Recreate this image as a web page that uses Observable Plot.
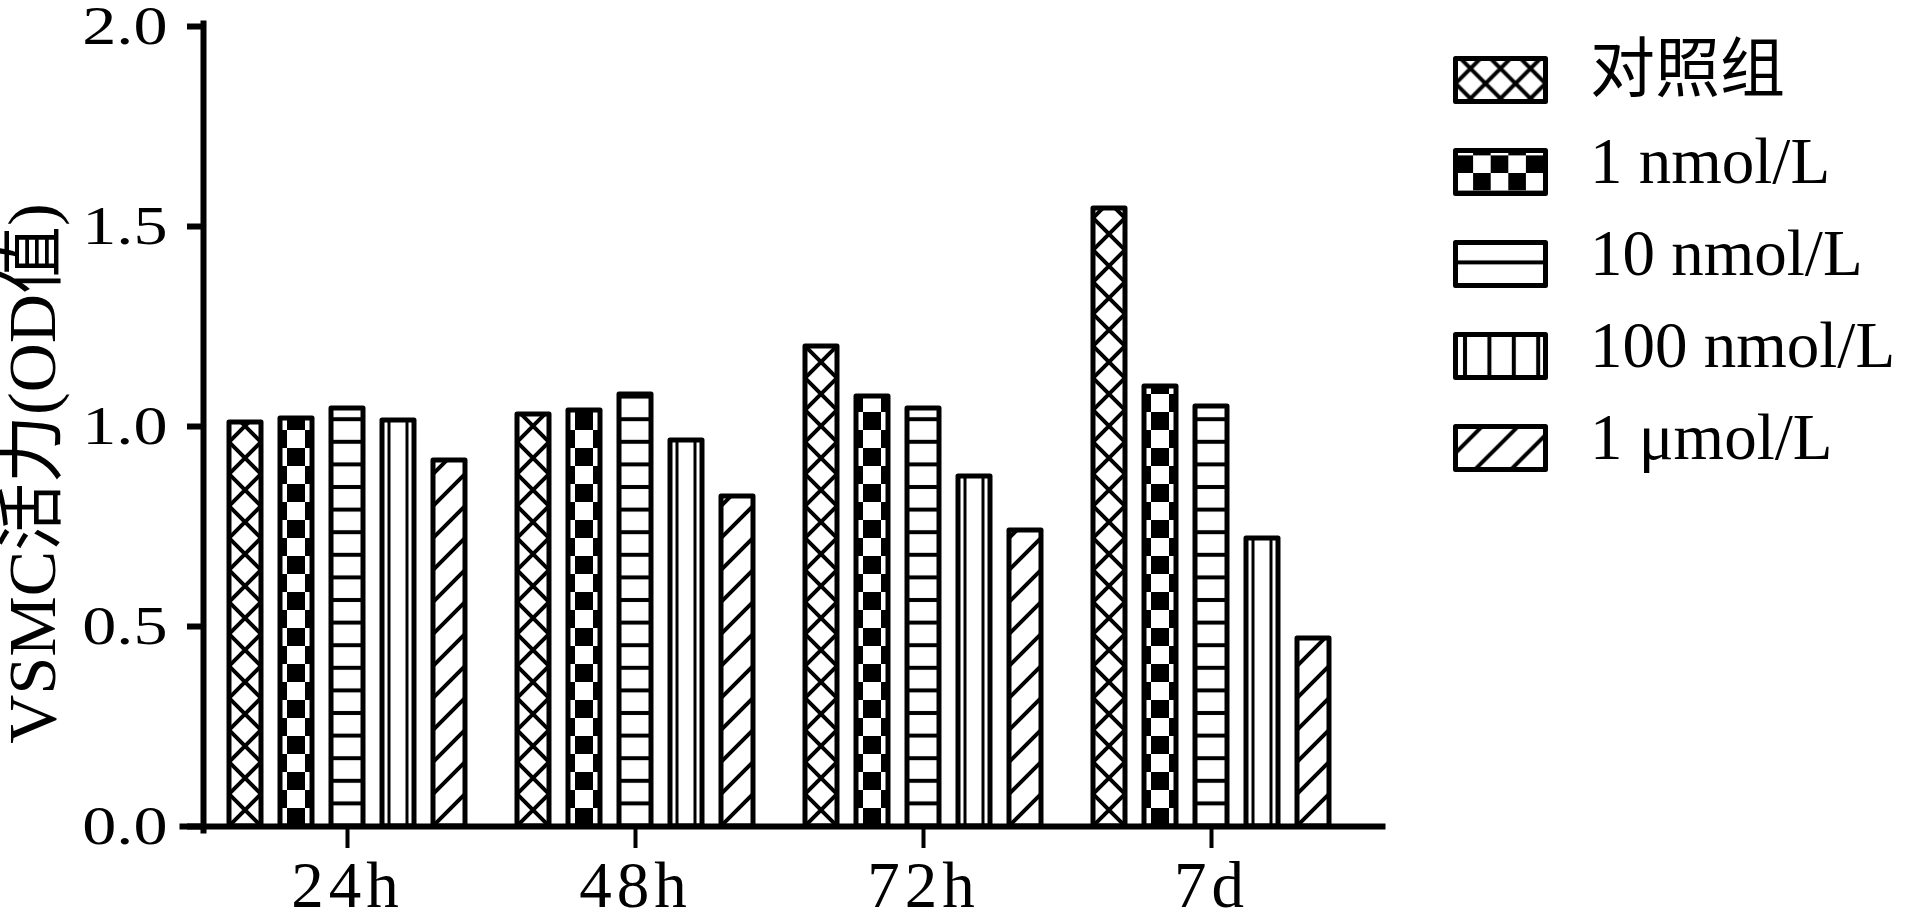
<!DOCTYPE html>
<html>
<head>
<meta charset="utf-8">
<script src="https://cdn.jsdelivr.net/npm/d3@7"></script>
<script src="https://cdn.jsdelivr.net/npm/@observablehq/plot@0.6"></script>
<style>
  html, body { margin: 0; padding: 0; background: #fff; }
  #wrap { position: relative; width: 1928px; height: 911px; overflow: hidden; background: #fff; }
  #wrap svg { overflow: visible; }
</style>
</head>
<body>
<div id="wrap"></div>
<script>
// ---- data ----
const groups = ["24h", "48h", "72h", "7d"];
const series = ["对照组", "1 nmol/L", "10 nmol/L", "100 nmol/L", "1 μmol/L"];
const values24h = [1.01, 1.02, 1.045, 1.015, 0.915];
const values48h = [1.03, 1.04, 1.08, 0.965, 0.825];
const values72h = [1.20, 1.075, 1.045, 0.875, 0.74];
const values7d  = [1.545, 1.10, 1.05, 0.72, 0.47];
const yTicks = [0, 0.5, 1.0, 1.5, 2.0];
const yTitle = "VSMC活力(OD值)";

const byGroup = [values24h, values48h, values72h, values7d];
const data = groups.flatMap((g, i) => byGroup[i].map((v, j) => ({group: g, series: series[j], value: v})));

const FONT = "'Liberation Serif', 'Times New Roman', 'Noto Sans CJK SC', serif";
const patIds = series.map((s, i) => "pat" + i);

const plot = Plot.plot({
  width: 1928,
  height: 911,
  marginLeft: 203,
  marginRight: 546,
  marginTop: 26,
  marginBottom: 85,
  style: {fontFamily: FONT, background: "white", color: "black", overflow: "visible"},
  fx: {domain: groups, paddingInner: 0, paddingOuter: 0.0433, align: 0},
  x: {domain: series, paddingInner: 0.371, paddingOuter: 0.503, axis: null},
  y: {domain: [0, 2]},
  color: {type: "ordinal", domain: series, range: patIds.map(id => `url(#${id})`)},
  marks: [
    Plot.barY(data, {fx: "group", x: "series", y: "value", fill: "series",
      stroke: "black", strokeWidth: 5, strokeLinejoin: "round"}),
    Plot.frame({anchor: "bottom", facet: "super", stroke: "black", strokeWidth: 6, insetLeft: -21, insetRight: -27}),
    Plot.frame({anchor: "left", facet: "super", stroke: "black", strokeWidth: 6, insetTop: -3, insetBottom: -4}),
    Plot.axisY({ticks: yTicks, tickFormat: d3.format(".1f"), tickSize: 16, tickPadding: 20,
      fontSize: 55, strokeWidth: 6, label: null}),
    Plot.text([yTitle], {facet: "super", frameAnchor: "left", rotate: -90, dx: -170, dy: 47,
      fontSize: 68, fill: "black", textAnchor: "middle", lineAnchor: "middle"}),
    Plot.axisFx({anchor: "bottom", tickSize: 22, tickPadding: 12, strokeWidth: 4, fontSize: 65, label: null})
  ]
});

document.getElementById("wrap").appendChild(plot);

// ---- patterns aligned to the rendered bars ----
const ns = "http://www.w3.org/2000/svg";
function el(name, attrs, parent) {
  const e = document.createElementNS(ns, name);
  for (const k in attrs) e.setAttribute(k, attrs[k]);
  if (parent) parent.appendChild(e);
  return e;
}
function buildPatterns(defs, prefix, geo, cfg) {
  const g0 = geo[0], g1 = geo[1], g2 = geo[2], g3 = geo[3], g4 = geo[4];
  {
    const P = cfg.crossP(g0);
    const p = el("pattern", {id: prefix + 0, patternUnits: "userSpaceOnUse", x: g0.x, y: cfg.crossY(g0, P), width: P, height: P}, defs);
    el("rect", {x: 0, y: 0, width: P, height: P, fill: "white"}, p);
    el("path", {d: `M-2,-2L${P + 2},${P + 2}M${P + 2},-2L-2,${P + 2}`, stroke: "black", "stroke-width": cfg.sw, fill: "none"}, p);
  }
  {
    const s = cfg.checkS;
    const p = el("pattern", {id: prefix + 1, patternUnits: "userSpaceOnUse", x: cfg.checkX(g1, s), y: cfg.checkY(g1, s), width: 2 * s, height: 2 * s}, defs);
    el("rect", {x: 0, y: 0, width: 2 * s, height: 2 * s, fill: "white"}, p);
    el("rect", {x: 0, y: s, width: s, height: s, fill: "black"}, p);
    el("rect", {x: s, y: 0, width: s, height: s, fill: "black"}, p);
  }
  {
    const P = cfg.hP, lw = cfg.sw;
    const p = el("pattern", {id: prefix + 2, patternUnits: "userSpaceOnUse", x: 0, y: cfg.hY(g2), width: 10, height: P}, defs);
    el("rect", {x: 0, y: 0, width: 10, height: P, fill: "white"}, p);
    el("rect", {x: 0, y: 0, width: 10, height: lw / 2, fill: "black"}, p);
    el("rect", {x: 0, y: P - lw / 2, width: 10, height: lw / 2, fill: "black"}, p);
  }
  {
    const P = cfg.vP, lw = cfg.vW;
    const p = el("pattern", {id: prefix + 3, patternUnits: "userSpaceOnUse", x: cfg.vX(g3, P), y: 0, width: P, height: 10}, defs);
    el("rect", {x: 0, y: 0, width: P, height: 10, fill: "white"}, p);
    el("rect", {x: 0, y: 0, width: lw / 2, height: 10, fill: "black"}, p);
    el("rect", {x: P - lw / 2, y: 0, width: lw / 2, height: 10, fill: "black"}, p);
  }
  {
    const P = cfg.dP;
    const p = el("pattern", {id: prefix + 4, patternUnits: "userSpaceOnUse", x: g4.x, y: cfg.dY(g4), width: P, height: P}, defs);
    el("rect", {x: 0, y: 0, width: P, height: P, fill: "white"}, p);
    el("path", {d: `M-2,${P + 2}L${P + 2},-2M-6,6L6,-6M${P - 6},${P + 6}L${P + 6},${P - 6}`, stroke: "black", "stroke-width": cfg.sw, fill: "none"}, p);
  }
}

const defs = el("defs", {});
plot.insertBefore(defs, plot.firstChild);
const geo = [];
plot.querySelectorAll('g[aria-label="bar"] rect').forEach(r => {
  const f = r.getAttribute("fill") || "";
  const m = f.match(/pat(\d)/);
  if (!m) return;
  const i = +m[1];
  if (!geo[i]) geo[i] = {x: +r.getAttribute("x"), w: +r.getAttribute("width"), base: +r.getAttribute("y") + +r.getAttribute("height")};
});
if (geo.length === 5) buildPatterns(defs, "pat", geo, {
  sw: 4,
  crossP: g => g.w, crossY: (g, P) => g.base,
  checkS: 18, checkX: (g, s) => g.x + g.w / 2 - s / 2, checkY: (g, s) => g.base,
  hP: 22.6, hY: g => g.base,
  vP: 18, vW: 3, vX: (g, P) => g.x + g.w / 2 - P / 2,
  dP: 32, dY: g => g.base
});

plot.querySelectorAll('g[aria-label="y-axis tick label"] text').forEach(t => {
  const tr = t.getAttribute("transform") || "";
  t.setAttribute("transform", tr + " scale(1.24,1)");
});
plot.querySelectorAll('g[aria-label="fx-axis tick label"] text').forEach(t => {
  t.style.letterSpacing = "5px";
});

// ---- legend ----
const legend = d3.select("#wrap").append("svg")
  .attr("width", 480).attr("height", 470)
  .style("position", "absolute").style("left", "1440px").style("top", "40px");
const ldefs = legend.append("defs").node();
const sw = {x: 15.5, w: 90, h: 43, y0: 18.5, step: 92};
const lgeo = series.map((s, i) => ({x: sw.x, w: sw.w, base: sw.y0 + i * sw.step + sw.h, top: sw.y0 + i * sw.step}));
buildPatterns(ldefs, "lpat", lgeo, {
  sw: 4,
  crossP: g => 30, crossY: (g, P) => g.top + sw.h / 2 - P / 2,
  checkS: 17.6, checkX: (g, s) => g.x, checkY: (g, s) => g.top - s,
  hP: 31.3, hY: g => g.top + 5.2,
  vP: 24.4, vW: 4, vX: (g, P) => g.x + 9.5,
  dP: 36, dY: g => g.top
});
const items = legend.selectAll("g.item").data(series).join("g").attr("class", "item")
  .attr("transform", (d, i) => `translate(0,${sw.y0 + i * sw.step})`);
items.append("rect")
  .attr("x", sw.x).attr("y", 0).attr("width", sw.w).attr("height", sw.h)
  .attr("fill", (d, i) => `url(#lpat${i})`)
  .attr("stroke", "black").attr("stroke-width", 5).attr("stroke-linejoin", "round");
items.append("text")
  .attr("x", 150).attr("y", 32.5)
  .style("font-family", FONT).style("font-size", "65px").attr("fill", "black")
  .text(d => d);
</script>
</body>
</html>
